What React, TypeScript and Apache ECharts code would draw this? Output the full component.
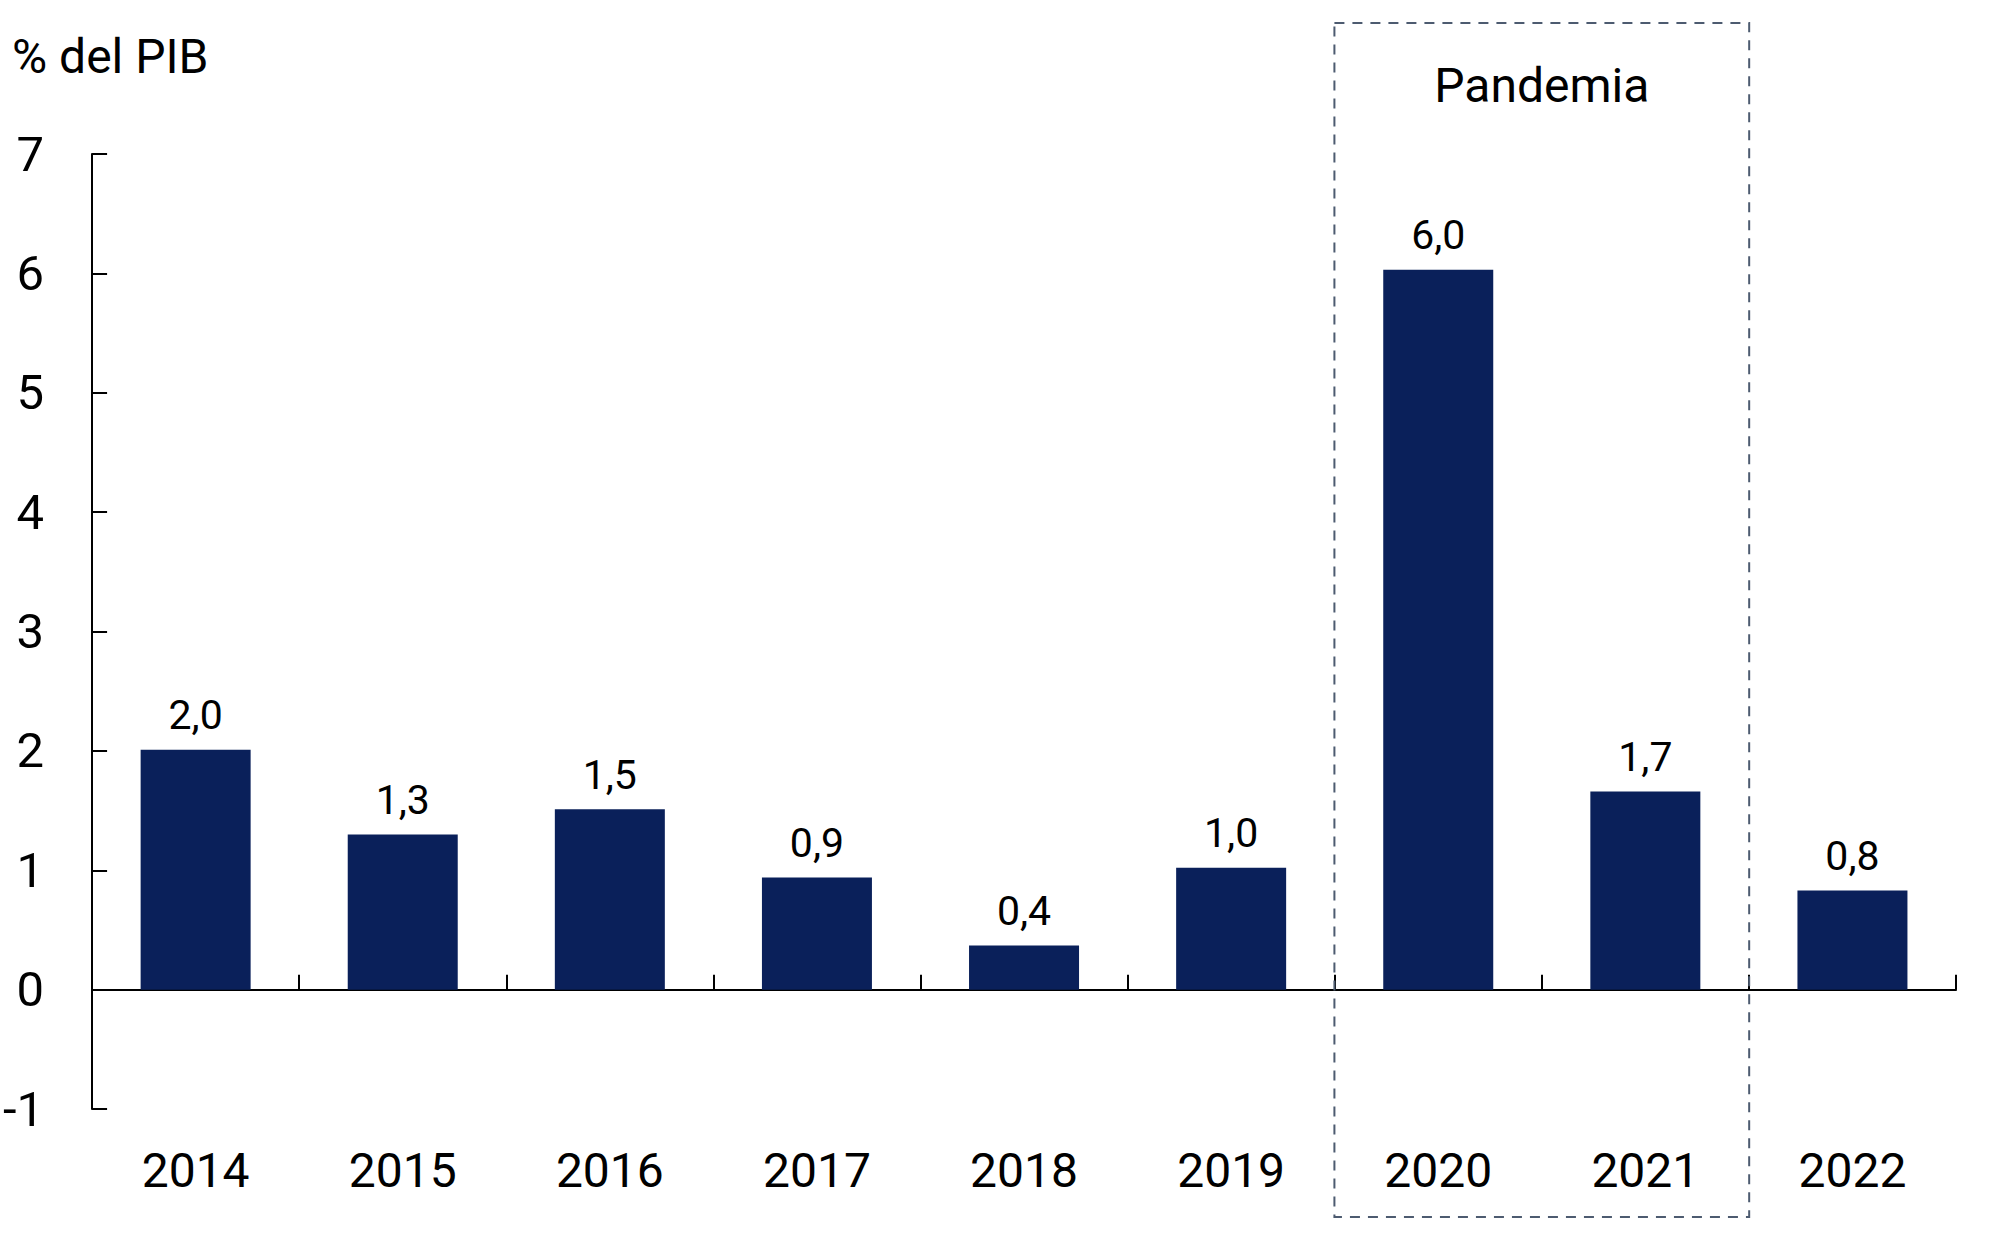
import React, { useEffect, useRef } from "react";
import * as echarts from "echarts";

const years = ["2014", "2015", "2016", "2017", "2018", "2019", "2020", "2021", "2022"];
const values = [2.01, 1.3, 1.51, 0.94, 0.37, 1.02, 6.03, 1.66, 0.83];
const yTicks = { min: -1, max: 7, interval: 1 };
const unitLabel = "% del PIB";
const boxLabel = "Pandemia";
const boxFrom = "2020";
const boxTo = "2021";

const FONT = "Roboto, 'Noto Sans', sans-serif";

export default function App() {
  const ref = useRef<HTMLDivElement>(null);
  useEffect(() => {
    if (!ref.current) return;
    const chart = echarts.init(ref.current, null, { renderer: "svg" });
    const grid = { left: 87, right: 43, top: 154, bottom: 129 };
    chart.setOption({
      animation: false,
      textStyle: { fontFamily: FONT },
      grid,
      xAxis: [
        {
          type: "category",
          data: years,
          position: "bottom",
          axisLine: { show: false, onZero: false },
          axisTick: { show: false },
          axisLabel: { color: "#000", fontSize: 48, fontFamily: FONT, margin: 37 },
        },
        {
          type: "category",
          data: years,
          position: "bottom",
          axisLine: { show: true, onZero: true, lineStyle: { color: "#000", width: 2 } },
          axisTick: { show: true, inside: true, length: 15, lineStyle: { color: "#000", width: 2 } },
          axisLabel: { show: false },
        },
      ],
      yAxis: {
        type: "value",
        min: yTicks.min,
        max: yTicks.max,
        interval: yTicks.interval,
        axisLine: { show: true, onZero: false, lineStyle: { color: "#000", width: 2 } },
        axisTick: { show: true, inside: true, length: 15, lineStyle: { color: "#000", width: 2 } },
        splitLine: { show: false },
        axisLabel: { color: "#000", fontSize: 49, fontFamily: FONT, margin: 48 },
      },
      series: [
        {
          type: "bar",
          xAxisIndex: 0,
          data: values,
          barWidth: 110,
          itemStyle: { color: "#0a205a" },
          label: {
            show: true,
            position: "top",
            distance: 14,
            color: "#000",
            fontSize: 41,
            fontFamily: FONT,
            formatter: (p: any) => Number(p.value).toFixed(1).replace(".", ","),
          },
        },
      ],
    });

    const c1 = chart.convertToPixel({ xAxisIndex: 0 }, boxFrom) as number;
    const c2 = chart.convertToPixel({ xAxisIndex: 0 }, boxTo) as number;
    const band = (1999 - grid.left - grid.right) / years.length;
    const x1 = c1 - band / 2;
    const x2 = c2 + band / 2;
    chart.setOption({
      graphic: [
        {
          type: "text",
          left: 12,
          top: 32,
          style: { text: unitLabel, fontSize: 48, fontFamily: FONT, fill: "#000" },
        },
        {
          type: "rect",
          shape: { x: x1, y: 23, width: x2 - x1, height: 1194 },
          style: { fill: "none", stroke: "#4d5b70", lineWidth: 2, lineDash: [10, 8] },
          z: 10,
        },
        {
          type: "text",
          x: (x1 + x2) / 2,
          y: 85,
          style: {
            text: boxLabel,
            fontSize: 48,
            fontFamily: FONT,
            fill: "#000",
            align: "center",
            verticalAlign: "middle",
          },
          z: 10,
        },
      ],
    });
    return () => chart.dispose();
  }, []);
  return <div ref={ref} style={{ width: 1999, height: 1238, position: "absolute", left: 0, top: 0 }} />;
}
